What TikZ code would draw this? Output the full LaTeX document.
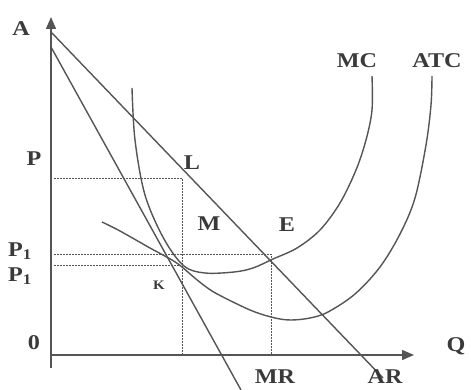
\documentclass[tikz,border=0pt]{standalone}
\usepackage{fontspec}
\setmainfont{Liberation Serif}[FakeStretch=1.15]
\usetikzlibrary{arrows.meta}
\definecolor{linegray}{HTML}{555555}
\definecolor{textgray}{HTML}{3A3A3A}
\begin{document}
\begin{tikzpicture}[x=1pt,y=-1pt,
  curve/.style={draw=linegray, line width=1.4pt},
  axisline/.style={draw=linegray, line width=1.5pt, -{Triangle[length=12pt,width=10pt]}},
  guide/.style={draw=linegray, line width=0.9pt, dash pattern=on 1.6pt off 1.4pt},
  lbl/.style={text=textgray, font=\fontsize{21}{24}\selectfont\bfseries, inner sep=0pt},
  smalllbl/.style={text=textgray, font=\fontsize{13}{15}\selectfont\bfseries, inner sep=0pt}]
\fill[white] (0,0) rectangle (471,390);
\useasboundingbox (0,0) rectangle (471,390);

% key points
\coordinate (O) at (51,355);
\coordinate (ytop) at (51,17);
\coordinate (ybot) at (51,368);
\coordinate (xend) at (414,355);
\coordinate (arS) at (51,32);
\coordinate (arE) at (383,378);
\coordinate (mrS) at (51,47);
\coordinate (mrE) at (241,390);
\coordinate (pL) at (54,178);
\coordinate (pR) at (182,178);
\coordinate (qK) at (182,355);
\coordinate (p1L) at (54,254);
\coordinate (E) at (271,254);
\coordinate (qE) at (271,355);
\coordinate (p2L) at (54,265);
\coordinate (K) at (180,265);

% guide lines
\draw[guide] (pL) -- (pR) -- (qK);
\draw[guide] (p1L) -- (E) -- (qE);
\draw[guide] (p2L) -- (K);

% axes
\draw[axisline] (ybot) -- (ytop);
\draw[axisline] (O) -- (xend);

% demand (AR) and MR
\draw[curve] (arS) -- (arE);
\draw[curve] (mrS) -- (mrE);

% MC
\draw[curve] plot[smooth, tension=0.55] coordinates {
  (132,88) (135,140) (145,195) (164,239) (184,266) (205,273)
  (234,272) (253,268) (273,259) (297,248)
  (320,230) (340,203) (356,170) (366,140) (372,110) (372,76)};

% ATC
\draw[curve] plot[smooth, tension=0.55] coordinates {
  (102,222) (120,231) (150,248) (172,260) (182,267) (196,279) (212,291)
  (235,303) (255,312) (275,318) (291,320) (310,318) (328,312) (355,294)
  (380,267) (400,234) (415,198) (426,145) (431,105) (432,76)};

% labels
\node[lbl] (lA) at (21,29) {A};
\node[lbl] (lP) at (34,159) {P};
\node[lbl] (lL) at (192,163) {L};
\node[lbl] (lM) at (209,224) {M};
\node[lbl] (lE) at (287,225) {E};
\node[lbl] (lP1) at (20,251) {P\textsubscript{1}};
\node[lbl] (lP2) at (20,276) {P\textsubscript{1}};
\node[smalllbl] (lK) at (159,285) {K};
\node[lbl] (l0) at (34,343) {0};
\node[lbl] (lQ) at (456,346) {Q};
\node[lbl] (lMR) at (275,377) {MR};
\node[lbl] (lAR) at (385,377) {AR};
\node[lbl] (lMC) at (357,61) {MC};
\node[lbl] (lATC) at (437,61) {ATC};
\end{tikzpicture}
\end{document}
